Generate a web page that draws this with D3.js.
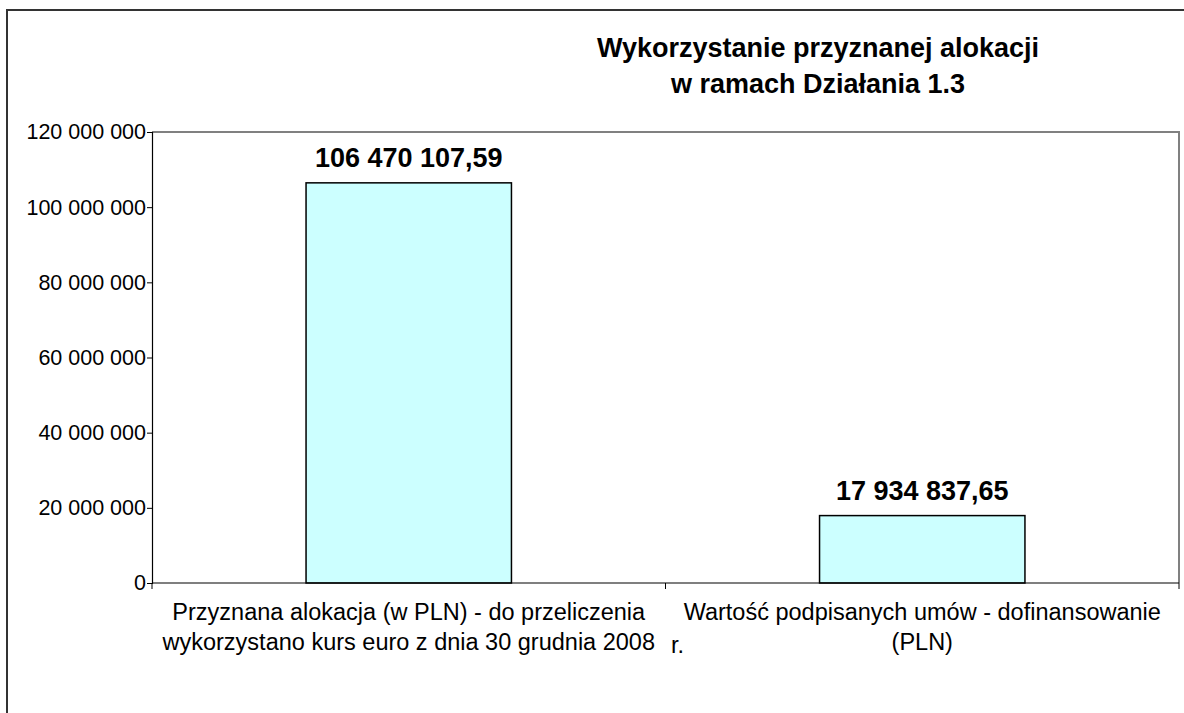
<!DOCTYPE html>
<html>
<head>
<meta charset="utf-8">
<script src="https://cdn.jsdelivr.net/npm/d3@7"></script>
<style>
  body { margin: 0; background: #fff; }
  text { font-family: "Liberation Sans", Arial, sans-serif; fill: #000; }
</style>
</head>
<body>
<svg></svg>
<script>
const categories = [
      ["Przyznana alokacja (w PLN) - do przeliczenia", "wykorzystano kurs euro z dnia 30 grudnia 2008", "r."],
      ["Wartość podpisanych umów - dofinansowanie", "(PLN)"]]
const values = [106470107.59, 17934837.65]
const yTicks = [0, 20000000, 40000000, 60000000, 80000000, 100000000, 120000000]
const titleLines = ["Wykorzystanie przyznanej alokacji", "w ramach Działania 1.3"]

const width = 1184
const height = 713
const plotL = 152, plotR = 1179, plotT = 132, plotB = 583

const pl = d3.formatLocale({ decimal: ",", thousands: " ", grouping: [3], currency: ["", ""] })
const fmtTick = pl.format(",")
const fmtVal = pl.format(",.2f")

const svg = d3.select("svg")
      .attr("width", width)
      .attr("height", height)

// outer chart frame
svg.append("rect")
      .attr("x", 7).attr("y", 10)
      .attr("width", 1200).attr("height", 720)
      .attr("fill", "none")
      .attr("stroke", "#333")
      .attr("stroke-width", 2)

const x = d3.scaleBand()
      .domain(d3.range(values.length))
      .range([plotL, plotR])

const y = d3.scaleLinear()
      .domain([0, 120000000])
      .range([plotB, plotT])

// plot area top / right border
svg.append("path")
      .attr("d", `M${plotL},${plotT}H${plotR}V${plotB}`)
      .attr("fill", "none")
      .attr("stroke", "#808080")
      .attr("stroke-width", 2)

// y axis
const yAxis = svg.append("g")
      .attr("transform", `translate(${plotL},0)`)
      .call(d3.axisLeft(y).tickValues(yTicks).tickFormat(fmtTick).tickSize(5).tickPadding(1))
yAxis.select(".domain").attr("stroke", "#000").attr("stroke-width", 1.2)
yAxis.selectAll(".tick line").attr("stroke", "#000")
yAxis.selectAll("text")
      .style("font-family", "'Liberation Sans', Arial, sans-serif")
      .attr("font-size", 21.5)
      .attr("fill", "#000")

// bars
const barW = x.bandwidth() * 0.4
svg.append("g")
      .selectAll("rect")
      .data(values)
      .join("rect")
      .attr("x", (d, i) => x(i) + (x.bandwidth() - barW) / 2)
      .attr("y", d => y(d))
      .attr("width", barW)
      .attr("height", d => y(0) - y(d))
      .attr("fill", "#CCFFFF")
      .attr("stroke", "#000")
      .attr("stroke-width", 1.5)

// value labels
svg.append("g")
      .selectAll("text")
      .data(values)
      .join("text")
      .attr("x", (d, i) => x(i) + x.bandwidth() / 2)
      .attr("y", d => y(d) - 16)
      .attr("text-anchor", "middle")
      .attr("font-size", 27)
      .attr("font-weight", "bold")
      .text(d => fmtVal(d))

// x axis line and boundary ticks
svg.append("line")
      .attr("x1", plotL).attr("x2", plotR)
      .attr("y1", plotB).attr("y2", plotB)
      .attr("stroke", "#000").attr("stroke-width", 1.2)
svg.append("g")
      .selectAll("line")
      .data(d3.range(values.length + 1))
      .join("line")
      .attr("x1", i => plotL + i * x.step())
      .attr("x2", i => plotL + i * x.step())
      .attr("y1", plotB).attr("y2", plotB + 6)
      .attr("stroke", "#000")

// category labels
categories.forEach((lines, i) => {
      const cx = x(i) + x.bandwidth() / 2
      const g = svg.append("g")
      g.append("text")
            .attr("x", cx).attr("y", 620)
            .attr("text-anchor", "middle")
            .attr("font-size", 23.5)
            .text(lines[0])
      const t2 = g.append("text")
            .attr("x", cx).attr("y", 650)
            .attr("text-anchor", "middle")
            .attr("font-size", 23.5)
            .text(lines[1])
      if (lines[2]) {
            const w = t2.node().getComputedTextLength()
            g.append("text")
                  .attr("x", cx + w / 2 + 16).attr("y", 653)
                  .attr("font-size", 23.5)
                  .text(lines[2])
      }
})

// title
svg.append("text")
      .attr("x", 818).attr("y", 57)
      .attr("text-anchor", "middle")
      .attr("font-size", 27)
      .attr("font-weight", "bold")
      .selectAll("tspan")
      .data(titleLines)
      .join("tspan")
      .attr("x", 818)
      .attr("dy", (d, i) => i ? 36 : 0)
      .text(d => d)
</script>
</body>
</html>
